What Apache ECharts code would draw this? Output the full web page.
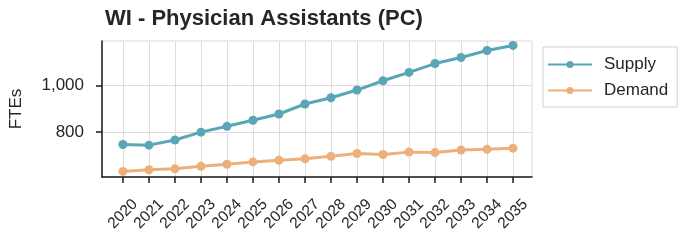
<!DOCTYPE html>
<html>
<head>
<meta charset="utf-8">
<script src="https://cdn.jsdelivr.net/npm/echarts@6/dist/echarts.min.js"></script>
<style>
  html, body { margin: 0; padding: 0; background: #fff; }
  #chart { width: 686px; height: 241px; }
</style>
</head>
<body>
<div id="chart"></div>
<script>
const years = [2020, 2021, 2022, 2023, 2024, 2025, 2026, 2027, 2028, 2029, 2030, 2031, 2032, 2033, 2034, 2035]
const supply = [746, 743, 765, 799, 824, 850, 877, 920, 947, 980, 1020, 1056, 1094, 1120, 1150, 1172]
const demand = [630, 637, 641, 652, 661, 671, 678, 684, 695, 707, 703, 713, 711, 722, 725, 730]
const yTicks = [800, 1000]

const font = 'Liberation Sans, Arial, sans-serif'
const chart = echarts.init(document.getElementById('chart'))

chart.setOption({
  animation: false,
  title: {
    text: 'WI - Physician Assistants (PC)',
    left: 100, top: 3,
    textStyle: { fontFamily: font, fontSize: 22, fontWeight: 'bold', color: '#262626' }
  },
  legend: {
    orient: 'vertical',
    left: 543, top: 47,
    padding: [9, 9, 8, 4],
    itemGap: 9,
    itemWidth: 44, itemHeight: 9,
    borderColor: '#d0d0d0', borderWidth: 1,
    textStyle: { fontFamily: font, fontSize: 17, color: '#262626', padding: [0, 0, 0, 7] },
    data: ['Supply', 'Demand']
  },
  grid: { left: 101, right: 154, top: 41, bottom: 64, show: true, borderColor: '#d9d9d9', borderWidth: 1 },
  xAxis: {
    type: 'value',
    min: 2019.195, max: 2035.73,
    axisLine: { lineStyle: { color: '#1a1a1a', width: 1.5 } },
    axisTick: { length: 6, lineStyle: { color: '#1a1a1a', width: 1.5 }, customValues: years },
    axisLabel: {
      customValues: years, rotate: 45, margin: 37,
      align: 'center', verticalAlign: 'middle',
      fontFamily: font, fontSize: 15.5, color: '#262626',
      formatter: v => String(v)
    },
    splitLine: { show: true, lineStyle: { color: '#dcdcdc', width: 1 } }
  },
  yAxis: {
    type: 'value',
    name: 'FTEs', nameLocation: 'middle', nameGap: 77, nameRotate: 90,
    nameTextStyle: { fontFamily: font, fontSize: 17, color: '#262626' },
    min: 606, max: 1191,
    axisLine: { show: true, lineStyle: { color: '#1a1a1a', width: 1.5 } },
    axisTick: { show: true, length: 6, lineStyle: { color: '#1a1a1a', width: 1.5 }, customValues: yTicks },
    axisLabel: {
      customValues: yTicks, margin: 18,
      fontFamily: font, fontSize: 17, color: '#262626',
      formatter: v => v.toLocaleString('en-US')
    },
    splitLine: { show: true, lineStyle: { color: '#dcdcdc', width: 1 } }
  },
  series: [
    {
      name: 'Supply', type: 'line',
      data: years.map((y, i) => [y, supply[i]]),
      symbol: 'circle', symbolSize: 9,
      lineStyle: { width: 3, color: '#5ba6b6' },
      itemStyle: { color: '#5ba6b6' }
    },
    {
      name: 'Demand', type: 'line',
      data: years.map((y, i) => [y, demand[i]]),
      symbol: 'circle', symbolSize: 9,
      lineStyle: { width: 3, color: '#eeb07a' },
      itemStyle: { color: '#eeb07a' }
    }
  ]
})
</script>
</body>
</html>
